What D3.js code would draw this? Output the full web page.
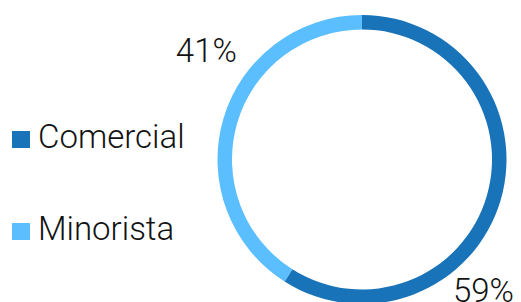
<!DOCTYPE html>
<html>
<head>
<meta charset="utf-8">
<script src="https://cdn.jsdelivr.net/npm/d3@7"></script>
<style>
  html, body { margin: 0; padding: 0; background: #fff; }
  svg { display: block; font-family: Roboto, Lato, sans-serif; font-weight: 300; }
</style>
</head>
<body>
<div id="chart"></div>
<script>
// data
const categories = ["Comercial", "Minorista"];
const shares = [59, 41];
const colors = ["#1973B8", "#5BBEFF"];

const width = 521, height = 302;
const cx = 362, cy = 159.5;
const outerR = 144.5, innerR = 130;

const svg = d3.select("#chart")
  .append("svg")
  .attr("width", width)
  .attr("height", height);

const pie = d3.pie()
  .value(d => d)
  .sort(null);

const arc = d3.arc()
  .innerRadius(innerR)
  .outerRadius(outerR);

const color = d3.scaleOrdinal()
  .domain(categories)
  .range(colors);

const g = svg.append("g")
  .attr("transform", `translate(${cx},${cy})`);

const arcs = pie(shares);

g.selectAll("path")
  .data(arcs)
  .enter()
  .append("path")
  .attr("d", arc)
  .attr("fill", (d, i) => color(categories[i]));

// percentage labels, placed outside the ring
const labelPos = [
  { angle: 137, r: 178, anchor: "middle" },  // 59%
  { angle: 305, r: 190, anchor: "middle" }   // 41%
];

g.selectAll("text.pct")
  .data(arcs)
  .enter()
  .append("text")
  .attr("class", "pct")
  .attr("x", (d, i) => d3.pointRadial(labelPos[i].angle * Math.PI / 180, labelPos[i].r)[0])
  .attr("y", (d, i) => d3.pointRadial(labelPos[i].angle * Math.PI / 180, labelPos[i].r)[1])
  .attr("dy", "0.36em")
  .attr("text-anchor", (d, i) => labelPos[i].anchor)
  .attr("font-size", 33)
  .attr("fill", "#121212")
  .text(d => d.data + "%");

// legend
const legend = svg.append("g")
  .attr("transform", "translate(12,0)");

const legendY = d3.scalePoint()
  .domain(categories)
  .range([148, 240]);

const item = legend.selectAll("g")
  .data(categories)
  .enter()
  .append("g")
  .attr("transform", d => `translate(0,${legendY(d)})`);

item.append("rect")
  .attr("x", 0)
  .attr("y", -17)
  .attr("width", 18)
  .attr("height", 17)
  .attr("fill", d => color(d));

item.append("text")
  .attr("x", 26)
  .attr("y", 0)
  .attr("font-size", 33)
  .attr("fill", "#121212")
  .text(d => d);
</script>
</body>
</html>
